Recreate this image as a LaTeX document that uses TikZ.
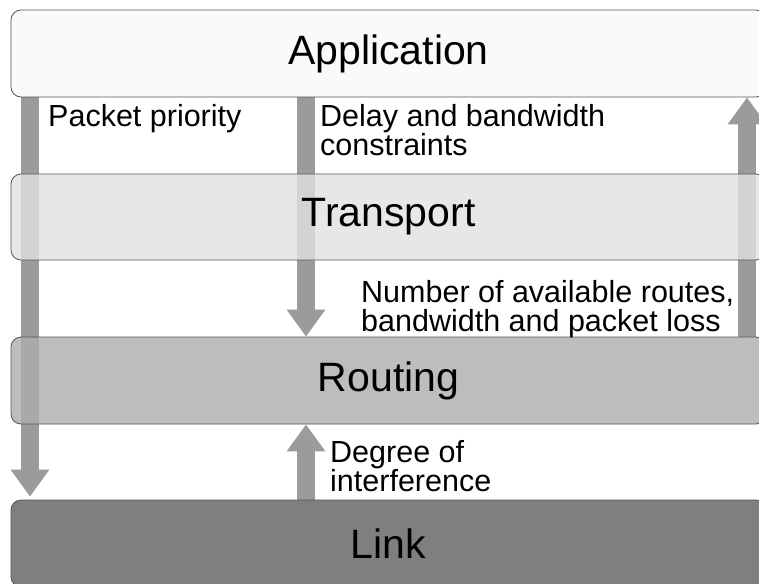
\documentclass[tikz,border=0pt]{standalone}
\usepackage{fontspec}
\setmainfont{Liberation Sans}
\usetikzlibrary{arrows.meta}
\definecolor{arrowgray}{RGB}{155,155,155}
\definecolor{bordergray}{RGB}{85,85,85}
\definecolor{appfill}{RGB}{250,250,250}
\definecolor{transfill}{RGB}{226,226,226}
\definecolor{routefill}{RGB}{173,173,173}
\definecolor{linkfill}{RGB}{127,127,127}
\tikzset{
  layer/.style={draw=bordergray, line width=0.8pt, rounded corners=10pt,
    minimum width=755pt, minimum height=87pt, inner sep=0pt,
    font=\fontsize{41}{46}\selectfont, text=black, text opacity=1},
  bigarrow/.style={draw=arrowgray, line width=18pt,
    -{Triangle[width=37pt,length=27pt]}},
  lbl/.style={anchor=base west, inner sep=0pt, align=left,
    font=\fontsize{30.5}{29}\selectfont}
}
\begin{document}
\begin{tikzpicture}[x=1pt,y=-1pt]
\useasboundingbox (0,0) rectangle (759,583);
\clip (0,0) rectangle (759,583);
\fill[white] (0,0) rectangle (759,583);
% layer positions (named coordinates)
\coordinate (cApp) at (388.5,53.5);
\coordinate (cTrans) at (388.5,217);
\coordinate (cRoute) at (388.5,380.5);
\coordinate (cLink) at (388.5,543.5);
\coordinate (xL) at (30,0);
\coordinate (xM) at (306,0);
\coordinate (xR) at (747,0);
% invisible placeholders to get anchors for arrows
\path (cApp) node[layer, draw=none, fill=none] (appA) {}
      (cRoute) node[layer, draw=none, fill=none] (routeA) {}
      (cLink) node[layer, draw=none, fill=none] (linkA) {};
% arrows behind boxes
\draw[bigarrow, shorten >=3pt] (appA.south -| xL) -- (linkA.north -| xL);
\draw[bigarrow] (appA.south -| xM) -- (routeA.north -| xM);
\draw[bigarrow] (linkA.north -| xM) -- (routeA.south -| xM);
\draw[bigarrow] (routeA.north -| xR) -- (appA.south -| xR);
% layer boxes
\node[layer, fill=appfill] (app) at (cApp) {Application};
\node[layer, fill=transfill, fill opacity=0.8, minimum height=86pt] (trans) at (cTrans) {Transport};
\node[layer, fill=routefill, fill opacity=0.8] (route) at (cRoute) {Routing};
\node[layer, fill=linkfill] (link) at (cLink) {Link};
% labels (base anchor = baseline of last line)
\node[lbl] (pp) at (48,126) {Packet priority};
\node[lbl] (delay) at (320,155) {Delay and bandwidth\\constraints};
\node[lbl] (routes) at (361,331) {Number of available routes,\\bandwidth and packet loss};
\node[lbl] (degree) at (330,491) {Degree of\\interference};
\end{tikzpicture}
\end{document}
